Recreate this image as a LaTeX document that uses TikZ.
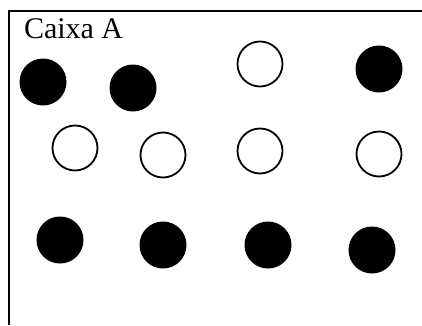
\documentclass[tikz,border=0pt]{standalone}
\usepackage{fontspec}
\setmainfont{Liberation Serif}
\usepackage{tikz}

\tikzset{
  bolapreta/.style={circle,fill=black,inner sep=0pt,minimum size=47pt},
  bolabranca/.style={circle,draw=black,line width=1.8pt,fill=white,inner sep=0pt,minimum size=45pt}
}

\begin{document}
\begin{tikzpicture}[x=1pt,y=1pt]
\path[use as bounding box,fill=white] (0,0) rectangle (422,325);

% moldura da caixa
\draw[line width=2pt] (9,0) -- (9,314.5) -- (422,314.5);

\node[anchor=base west,inner sep=0pt,outer sep=0pt] (titulo) at (24,286.7)
  {\fontsize{30}{36}\selectfont Caixa A};

% primeira fila
\node[bolapreta] (p1) at ( 43,243) {};
\node[bolapreta] (p2) at (133,237) {};
\node[bolabranca] (b1) at (260,261) {};
\node[bolapreta] (p3) at (379,256) {};

% segunda fila
\node[bolabranca] (b2) at ( 75,177) {};
\node[bolabranca] (b3) at (163,170) {};
\node[bolabranca] (b4) at (260,174) {};
\node[bolabranca] (b5) at (379,171) {};

% terceira fila
\node[bolapreta] (p4) at ( 60,85) {};
\node[bolapreta] (p5) at (163,80) {};
\node[bolapreta] (p6) at (268,80) {};
\node[bolapreta] (p7) at (372,75) {};
\end{tikzpicture}
\end{document}
